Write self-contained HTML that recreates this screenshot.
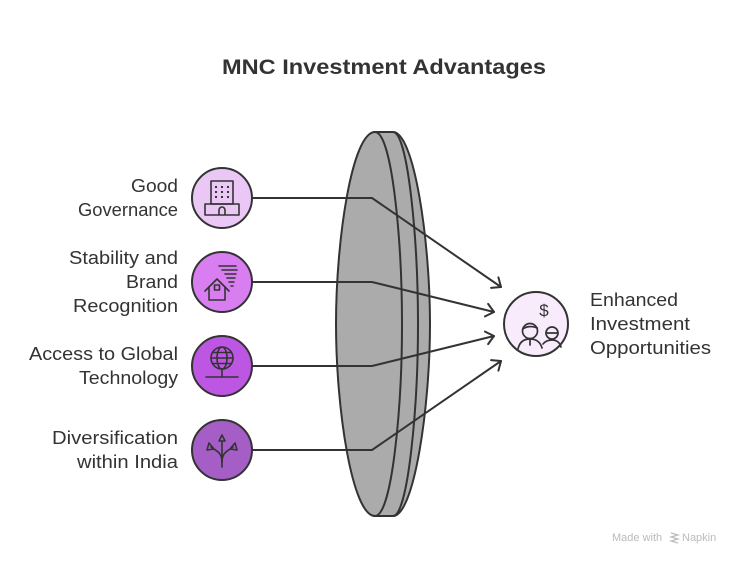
<!DOCTYPE html>
<html>
<head>
<meta charset="utf-8">
<style>
  html,body{margin:0;padding:0;background:#ffffff;}
  body{width:744px;height:564px;overflow:hidden;}
  svg{display:block;}
  text{font-family:"Liberation Sans",Arial,sans-serif;}
</style>
</head>
<body>
<svg width="744" height="564" viewBox="0 0 744 564" xmlns="http://www.w3.org/2000/svg">
  <rect width="744" height="564" fill="#ffffff"/>

  <!-- Title -->
  <text x="384" y="74" text-anchor="middle" font-size="21.5" font-weight="bold" fill="#333333" textLength="324" lengthAdjust="spacingAndGlyphs">MNC Investment Advantages</text>

  <!-- Lens -->
  <g stroke="#333333" stroke-width="2" fill="#ababab" stroke-linejoin="round">
    <path d="M374,132 L393,132 C414,132 430,240 430,324 C430,408 414,516 393,516 L374,516 Z"/>
    <path d="M393,132 C408,132 418,240 418,324 C418,408 408,516 393,516" fill="none"/>
    <path d="M375,132 C352,132 336,240 336,324 C336,408 352,516 375,516 C392,516 402,408 402,324 C402,240 392,132 375,132 Z"/>
  </g>

  <!-- Connectors -->
  <g stroke="#333333" stroke-width="2" fill="none" stroke-linecap="round" stroke-linejoin="round">
    <polyline points="252,198 372,198 501,287"/>
    <polyline points="498.4,277.4 501,287 491.1,287.9"/>
    <polyline points="252,282 372,282 494,312"/>
    <polyline points="488.1,303.9 494,312 485,316.4"/>
    <polyline points="252,366 372,366 494,336"/>
    <polyline points="485,331.6 494,336 488.1,344.1"/>
    <polyline points="252,450 372,450 501,361"/>
    <polyline points="491.1,360.1 501,361 498.4,370.6"/>
  </g>

  <!-- Circles -->
  <g stroke="#333333" stroke-width="2">
    <circle cx="222" cy="198" r="30" fill="#ebc7f6"/>
    <circle cx="222" cy="282" r="30" fill="#d87ef1"/>
    <circle cx="222" cy="366" r="30" fill="#bd57e3"/>
    <circle cx="222" cy="450" r="30" fill="#a45ec6"/>
    <circle cx="536" cy="324" r="32" fill="#f7ebfc"/>
  </g>

  <!-- Icon 1: building -->
  <g stroke="#333333" stroke-width="1.6" fill="none" stroke-linejoin="round">
    <rect x="211" y="181" width="22" height="23"/>
    <rect x="205" y="204" width="34" height="11"/>
    <path d="M219,215 L219,210 A3,3 0 0 1 225,210 L225,215"/>
  </g>
  <g fill="#333333">
    <rect x="215" y="186" width="2" height="2"/><rect x="221" y="186" width="2" height="2"/><rect x="227" y="186" width="2" height="2"/>
    <rect x="215" y="191" width="2" height="2"/><rect x="221" y="191" width="2" height="2"/><rect x="227" y="191" width="2" height="2"/>
    <rect x="215" y="196" width="2" height="2"/><rect x="221" y="196" width="2" height="2"/><rect x="227" y="196" width="2" height="2"/>
  </g>

  <!-- Icon 2: house with wind -->
  <g stroke="#333333" stroke-width="1.6" fill="none" stroke-linejoin="round" stroke-linecap="round">
    <path d="M205,291 L217,279 L229,291"/>
    <path d="M209,287 L209,300 L225,300 L225,287"/>
    <rect x="214.5" y="285" width="5" height="5"/>
    <path d="M219,266 L236,266 M222,270 L237,270 M225,274 L236,274 M227,278 L235,278 M229,282 L234,282 M231,286 L233,286"/>
  </g>

  <!-- Icon 3: globe -->
  <g stroke="#333333" stroke-width="1.6" fill="none" stroke-linecap="round">
    <circle cx="222" cy="358" r="11"/>
    <ellipse cx="222" cy="358" rx="5" ry="11"/>
    <line x1="211" y1="358" x2="233" y2="358"/>
    <line x1="212.5" y1="352.5" x2="231.5" y2="352.5"/>
    <line x1="212.5" y1="363.5" x2="231.5" y2="363.5"/>
    <line x1="222" y1="369" x2="222" y2="377"/>
    <line x1="206" y1="377" x2="238" y2="377"/>
  </g>

  <!-- Icon 4: diversification arrows -->
  <g stroke="#333333" stroke-width="1.6" fill="none" stroke-linejoin="round" stroke-linecap="round">
    <path d="M222,467 L222,441"/>
    <path d="M219,441 L222,435 L225,441 Z"/>
    <path d="M222,462 C222,452 216,451 211,447"/>
    <path d="M209,443 L207,450 L214,449 Z"/>
    <path d="M222,462 C222,452 228,451 233,447"/>
    <path d="M235,443 L237,450 L230,449 Z"/>
  </g>

  <!-- Output icon: people with dollar -->
  <text x="544" y="316" text-anchor="middle" font-size="17" fill="#333333">$</text>
  <g stroke="#333333" stroke-width="1.7" fill="none" stroke-linecap="round" stroke-linejoin="round">
    <circle cx="530" cy="331" r="7.5"/>
    <path d="M522.8,329 C526,326.5 532,325.5 537.3,328"/>
    <path d="M518,349 C519.5,342 524,339 530,339 C536,339 540.5,342 542,348"/>
    <line x1="530" y1="339" x2="530" y2="345"/>
    <circle cx="552" cy="333" r="6"/>
    <line x1="546" y1="333" x2="558" y2="333"/>
    <path d="M543,344 C545,341.5 548,340 552,340 C557,340 560,343 561,347"/>
  </g>

  <!-- Left labels -->
  <g font-size="18" fill="#333333" text-anchor="end">
    <text x="178" y="192" textLength="47" lengthAdjust="spacingAndGlyphs">Good</text>
    <text x="178" y="216" textLength="100" lengthAdjust="spacingAndGlyphs">Governance</text>
    <text x="178" y="264" textLength="109" lengthAdjust="spacingAndGlyphs">Stability and</text>
    <text x="178" y="288" textLength="52" lengthAdjust="spacingAndGlyphs">Brand</text>
    <text x="178" y="312" textLength="105" lengthAdjust="spacingAndGlyphs">Recognition</text>
    <text x="178" y="360" textLength="149" lengthAdjust="spacingAndGlyphs">Access to Global</text>
    <text x="178" y="384" textLength="99" lengthAdjust="spacingAndGlyphs">Technology</text>
    <text x="178" y="444" textLength="126" lengthAdjust="spacingAndGlyphs">Diversification</text>
    <text x="178" y="468" textLength="101" lengthAdjust="spacingAndGlyphs">within India</text>
  </g>

  <!-- Right label -->
  <g font-size="18" fill="#333333">
    <text x="590" y="306" textLength="88" lengthAdjust="spacingAndGlyphs">Enhanced</text>
    <text x="590" y="330" textLength="100" lengthAdjust="spacingAndGlyphs">Investment</text>
    <text x="590" y="354" textLength="121" lengthAdjust="spacingAndGlyphs">Opportunities</text>
  </g>

  <!-- Watermark -->
  <text x="612" y="541" font-size="11" fill="#bbbbbb">Made with</text>
  <g stroke="#bbbbbb" stroke-width="1.2" fill="none">
    <path d="M671,533 L678,535 L671,537 L678,539 L671,541 L678,543"/>
  </g>
  <text x="682" y="541" font-size="11" fill="#bbbbbb">Napkin</text>
</svg>
</body>
</html>
